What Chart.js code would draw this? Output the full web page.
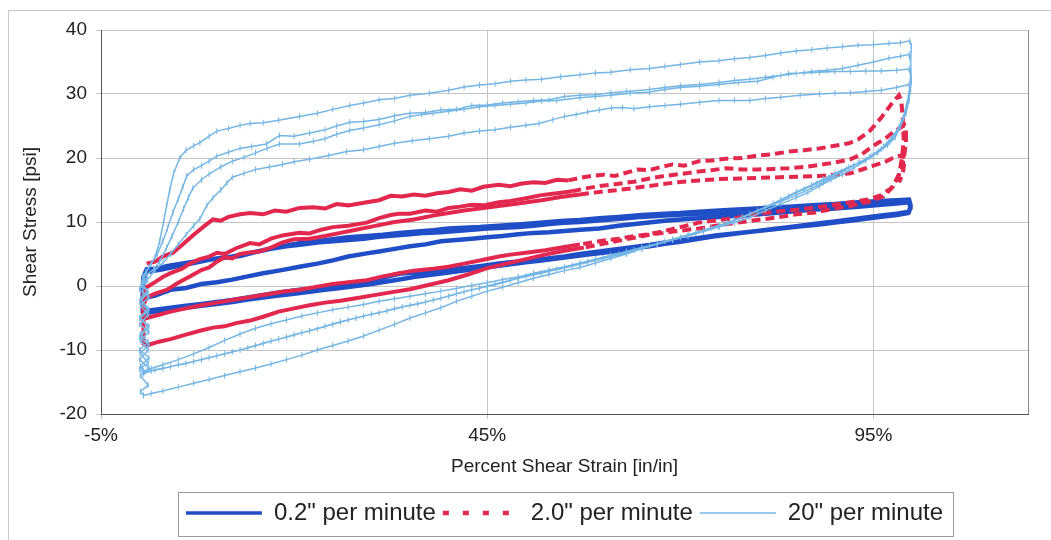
<!DOCTYPE html>
<html>
<head>
<meta charset="utf-8">
<script src="https://cdn.jsdelivr.net/npm/chart.js@4"></script>
<style>
  html, body { margin: 0; padding: 0; background: #fff; }
  #wrap { width: 1051px; height: 540px; }
</style>
</head>
<body>
<div id="wrap"><canvas id="shearChart" width="1051" height="540"></canvas></div>
<script>
// --- Data: [strain %, stress psi] ---
const xTicks = [-5, 45, 95];
const seriesNames = ['0.2" per minute', '2.0" per minute', '20" per minute'];

// 0.2" per minute (solid blue)
const slowLoad1 = [[0.9,-1.8],[2,-1.5],[4,-0.6],[6,-0.3],[8,0.3],[10,0.6],[12,1],[14,1.5],[16,2],[18,2.4],[20.7,3],[23,3.5],[25,4],[27,4.6],[29.4,5.1],[31,5.4],[33,5.8],[35,6.2],[37,6.5],[39,7],[41,7.2],[43,7.4],[45,7.6],[47,7.8],[49,8.1],[51,8.3],[53,8.4],[55,8.6],[57,8.8],[59.5,9],[62,9.4],[65,9.8],[68,10.2],[70,10.4],[72.4,10.6],[75,10.8],[78,11],[81,11.3],[84,11.6],[87,11.9],[90,12.1],[93,12.4],[96,12.7],[98,12.9],[99.6,13.1]];
const slowReturn1 = [[99.8,12.2],[99.5,11.4],[98,11.1],[96,10.8],[94,10.5],[92,10.2],[90,9.9],[88,9.6],[85.3,9.3],[83,9],[80,8.6],[77,8.2],[74.5,7.9],[72.4,7.5],[70,7.1],[68,6.8],[66,6.4],[64,6.1],[62,5.8],[59.5,5.4],[57,5],[55,4.6],[52,4.2],[50,3.9],[48,3.7],[46.5,3.5],[44,3.1],[42,2.8],[40,2.6],[38,2.4],[35.5,2.1],[33.6,1.9],[31.5,1.3],[29.4,0.4],[27,0.1],[25,-0.1],[22.5,-0.4],[20.7,-0.6],[18,-1],[16,-1.4],[14,-1.8],[12,-2.2],[10,-2.5],[8,-2.8],[6,-3.1],[4,-3.4],[2,-3.7],[0.9,-3.9]];
const slowRise1 = [[0.4,-3.5],[0.4,-1],[0.5,1.5],[0.9,2.6]];
const slowLoad2 = [[2,2.7],[4,3.2],[6,3.6],[8,4],[10,4.3],[12,4.6],[14,5.1],[16,5.6],[18,6.1],[20.7,6.7],[23,7],[25,7.3],[27,7.6],[29.4,7.8],[31.5,8],[33.6,8.3],[36,8.5],[38,8.7],[40,9],[42,9.1],[44,9.2],[46.5,9.4],[49,9.6],[51,9.8],[53,10],[55,10.2],[57,10.3],[59.5,10.6],[62,10.8],[65,11.1],[68,11.3],[70,11.4],[72.4,11.6],[75,11.8],[78,12],[81,12.2],[84,12.4],[87,12.6],[90,12.8],[93,13.1],[96,13.3],[98,13.4],[99.6,13.5]];
const slowReturn2 = [[99.8,12.6],[99.6,11.6],[98,11.3],[96,11],[94,10.7],[92,10.4],[90,10.1],[88,9.8],[86,9.5],[84,9.2],[82,8.9],[80,8.6],[78,8.3],[76,8],[74,7.7],[72,7.3],[70,6.9],[68,6.6],[66,6.2],[64,5.9],[62,5.5],[60,5.2],[58,4.9],[56,4.6],[54,4.3],[52,4],[50,3.7],[48,3.4],[46,3.1],[44,2.8],[42,2.4],[40,2.1],[38,1.8],[36,1.5],[34,1.1],[32,0.7],[30,0.3],[28,0],[26,-0.3],[24,-0.6],[22,-0.9],[20,-1.2],[18,-1.5],[16,-1.8],[14,-2.1],[12,-2.5],[10,-2.8],[8,-3.1],[6,-3.4],[4,-3.7],[2,-4],[0.9,-4.2]];
const slowRise2 = [[0.4,-4],[0.4,-1.5],[0.5,1],[0.9,2.2]];
const slowLoad3 = [[3,2.6],[5,3.1],[7,3.6],[9,4.1],[11,4.4],[13,4.7],[15,5.3],[17,5.8],[19,6.2],[21,6.5],[23,6.8],[25,7],[27,7.2],[29,7.4],[31,7.7],[33,7.9],[35,8.1],[37,8.3],[39,8.4],[41,8.6],[43,8.8],[45,9],[47,9.1],[49,9.2],[51,9.4],[53,9.7],[55,9.9],[57,10],[59,10.2],[61,10.4],[63,10.6],[65,10.8],[68,11],[71,11.2],[74,11.4],[77,11.6],[80,11.9],[83,12.1],[86,12.4],[89,12.6],[92,12.9],[95,13.1],[98,13.3],[99.6,13.4]];

// 2.0" per minute (dashed red)
const medLoad1 = [[0.9,3.5],[2,3.8],[3,4.6],[4.3,5.2],[5.5,6.4],[7,8],[8.2,9.2],[9.5,10.4],[10.5,10.2],[11.5,10.8],[13,11.2],[14.3,11.4],[16,11.2],[17.5,11.8],[19,11.6],[20.7,12.2],[22.5,12.3],[24,12.1],[25.5,12.8],[27,12.6],[29.4,13.1],[31,13.4],[32.5,14.1],[34,14],[35.5,14.3],[37,14.1],[38.5,14.5],[40,14.7],[41.5,15.1],[43,14.9],[44.5,15.5],[46.5,15.8],[48,15.6],[49.5,16],[51,16.2],[52.5,16.1],[54,16.6],[55.5,16.5],[57,16.9],[58.5,17.2],[60,17.4],[61.5,17.2],[63,17.7],[64.5,18.2],[66,18.1],[67.5,18.6],[69,19],[70.5,18.8],[72.4,19.5],[74,19.6],[76,19.9],[78,20],[80,20.4],[82,20.6],[84,21],[86,21.2],[88,21.5],[90,21.9],[91.8,22.3],[93,22.9],[94.5,24.2],[96,26.3],[97.3,28.4],[98.3,29.8]];
const medReturn1 = [[98.6,29],[98.8,26],[98.9,23],[98.7,20],[98.3,17.5],[97.5,15.5],[96.3,14],[94.5,13.2],[92,12.5],[89.5,12],[87.5,11.5],[85,11.2],[83,10.8],[80.5,10.4],[78,10],[75,9.5],[72.4,9],[69,8.5],[66,8],[63,7.3],[60,6.6],[57.5,6],[55,5.5],[52.5,4.9],[50,4.2],[47.5,3.5],[45,2.8],[42.5,1.8],[40,0.9],[37.5,0.2],[35,-0.5],[32.5,-1],[30,-1.5],[28,-1.9],[26,-2.3],[24,-2.6],[22,-3],[20,-3.5],[18,-4],[16,-4.8],[14.3,-5.4],[12.5,-5.8],[11,-6.3],[9.5,-6.5],[7.8,-7],[6,-7.6],[4,-8.3],[2.5,-8.7],[0.9,-9.3]];
const medRise1 = [[0.5,-9],[0.5,-5],[0.5,-1]];
const medLoad2 = [[0.9,-0.2],[2,0.6],[3,1.4],[4,2],[5.5,2.7],[6.5,3.5],[7.8,4.2],[9,4.6],[10,5.2],[11,5],[12.5,5.9],[14.3,6.7],[15.5,6.5],[17,7.4],[18.5,7.9],[20.7,8.3],[22,8.2],[23.5,8.8],[25,9.2],[27,9.4],[29.4,9.9],[31,10.6],[32.5,11.1],[33.6,11.3],[35,11.3],[37,11.8],[38.5,11.6],[40,12.2],[41.5,12.4],[43,12.7],[44.5,12.6],[46.5,13.1],[48,13.3],[50,13.7],[52,14.2],[54,14.5],[56,14.8],[57.5,15.2],[59.5,15.6],[61.5,15.9],[64,16.3],[66,16.8],[68,17.2],[70,17.5],[72.4,17.9],[74,18.1],[76,18.4],[78,18.2],[80,18.2],[82,18.3],[84,18.4],[86,18.6],[88,18.9],[90,19.3],[92,19.8],[93.5,20.6],[94.5,21.5],[95.5,22.3],[96.5,23],[97.5,24],[98.3,24.6],[99,25.1]];
const medReturn2 = [[99.1,24.5],[99.2,22.5],[99,20.5],[98.7,18.5],[98.1,16.8],[97.3,15.3],[96,14.2],[94.3,13.5],[92,13.1],[89.6,12.6],[87,12.2],[85,11.9],[83,11.7],[81,11.4],[79,11],[77,10.6],[75,10.3],[72.4,9.9],[70,9.2],[68,8.6],[66,8.1],[64,7.8],[62,7.4],[59.5,7],[57,6.5],[55,6.1],[52.5,5.6],[50,5.2],[48,4.9],[46.5,4.6],[44.5,4.1],[42,3.5],[40,3],[38,2.7],[35.5,2.4],[33.6,2],[31.5,1.5],[29.4,0.9],[27,0.6],[25,0.3],[23,-0.1],[20.7,-0.6],[18.5,-0.9],[16,-1.4],[14,-1.8],[12,-2.2],[10,-2.6],[8,-3],[6,-3.5],[4,-4],[2.5,-4.5],[0.9,-5]];
const medRise2 = [[0.5,-4.7],[0.5,-3]];
const medLoad3 = [[0.9,-1.8],[2,-1.2],[3.5,-0.6],[5,0.5],[6.5,1.5],[8,2.5],[9,2.9],[10,3.8],[11,4.5],[12,4.3],[13,5],[14,5.2],[15.5,5.4],[17,6],[18.5,6.8],[20,7.3],[22,7.4],[24,7.8],[26,8.3],[28,8.8],[30.5,9.4],[33,10],[35.5,10.4],[38,11],[40,11.4],[42,11.8],[44,12.1],[46.5,12.5],[49,12.9],[52,13.4],[54.5,13.9],[57,14.3],[59.5,14.7],[62,15],[64.5,15.4],[67,15.8],[69.5,16.2],[72.4,16.5],[75,16.7],[78,16.8],[80.5,16.9],[83,17],[85.5,17.1],[88,17.2],[90,17.4],[92,17.6],[93.5,18.2],[95,18.8],[96.5,19.4],[97.5,20],[98.8,20.5],[99,19.5],[98.8,17.5],[98.3,16.2]];

// 20" per minute (light blue with tick markers)
const fastLoad1 = [[0.4,-1],[0.6,1.5],[1.2,3],[2,4.5],[2.6,7],[3.1,10],[3.5,12.6],[3.9,15],[4.4,17.6],[5.2,20],[6,21.2],[7,21.9],[7.8,22.4],[9,23.4],[10,24.2],[11.5,24.6],[13,25.1],[14.3,25.4],[16,25.5],[18,25.9],[20.7,26.5],[23,27],[25,27.6],[27.2,28.2],[29,28.6],[31,29.1],[33,29.3],[35,29.8],[37.5,30.1],[40,30.6],[42,31.1],[44,31.4],[46,31.6],[48,32],[50,32.2],[52,32.3],[54.5,32.7],[57,33],[59,33.3],[61,33.4],[63.5,33.8],[66,34],[68,34.3],[70,34.6],[72.5,35],[75,35.2],[77,35.5],[79,35.7],[81,36],[83,36.4],[85,36.7],[87,36.9],[89,37.2],[91,37.4],[93,37.6],[95,37.7],[97,37.9],[98.5,38],[99.7,38.3]];
const fastReturn1 = [[99.9,37.5],[99.8,35],[99.9,32],[99.6,29],[99.2,27],[98.5,25],[97.8,23.2],[96.8,22],[95.5,20.8],[94,19.6],[92.5,18.5],[91,17.4],[89.5,16.6],[88,15.6],[86.5,14.6],[85,13.8],[83,12.8],[81,11.8],[79,10.7],[77,9.9],[75,9.2],[73,8.5],[71,7.8],[69,7.2],[67,6.5],[65,5.8],[63,5],[61,4.3],[59,3.6],[57,2.9],[55,2.4],[53,1.8],[51,1.2],[49,0.5],[47,-0.2],[45,-0.8],[43,-1.6],[41,-2.4],[39,-3.4],[37,-4.2],[35,-5],[33,-6],[31,-6.9],[29,-7.8],[27,-8.6],[25,-9.3],[23,-10],[21,-10.8],[19,-11.5],[17,-12.2],[15,-12.8],[13,-13.4],[11,-14],[9,-14.6],[7,-15.2],[5,-15.8],[3,-16.4],[1.5,-16.8],[0.5,-17.1]];
const fastRise1 = [[0.1,-16.5],[1.1,-15.5],[0.1,-14],[1.2,-12.8],[0,-11.5],[1.1,-10],[0.1,-8.5],[1.2,-7.2],[0,-6],[1.1,-4.5],[0.1,-3],[1.2,-1.8],[0,-0.5],[1,0.8],[0.4,1.5]];
const fastLoad2 = [[0.8,2.2],[1.5,3.5],[2.3,5],[3,7],[3.6,9],[4.3,11.5],[5,13.6],[5.6,15.5],[6.1,17.2],[7,18.2],[8,18.8],[9,19.5],[10,20.3],[11.5,20.9],[13,21.5],[14.5,21.8],[16.4,22.2],[18.1,23.5],[20,23.4],[22,23.9],[24,24.4],[25.5,25],[27.2,25.6],[29,25.7],[31,26],[33,26.6],[35,27],[37,27.1],[39,27.5],[41,27.6],[43,28.2],[45,28.3],[47,28.6],[49,28.8],[51,29],[53,29.1],[55,29.6],[57,29.8],[59,29.9],[61,30.2],[63,30.4],[66,30.7],[68,31],[70,31.3],[72.5,31.5],[75,31.8],[77,32.1],[79,32.3],[81,32.6],[83,32.9],[85,33.2],[87,33.5],[89,33.7],[91,34],[93,34.5],[95,35],[97,35.6],[98.5,35.9],[99.6,36.2]];
const fastReturn2 = [[99.8,35],[99.8,32],[99.5,29.5],[99,27],[98.3,24.8],[97.3,23],[96,21.4],[94.5,20.2],[93,19.2],[91.5,18.2],[90,17.2],[88.5,16.2],[87,15.3],[85,14.2],[83,13.2],[81,12.2],[79,11.2],[77,10.3],[75,9.5],[73,8.7],[71,8],[69,7.3],[67,6.6],[65,5.9],[63,5.2],[61,4.6],[59,4],[57,3.4],[55,2.8],[53,2.3],[51,1.8],[49,1.2],[47,0.5],[45,-0.1],[43,-0.6],[41,-1.2],[39,-1.9],[37,-2.5],[35,-3],[33,-3.5],[31,-4.2],[29,-4.7],[27,-5.3],[25,-6],[23,-6.7],[21,-7.3],[19,-8],[17,-8.6],[15,-9.3],[13,-10],[11,-10.6],[9,-11.2],[7,-11.8],[5,-12.3],[3,-12.9],[1.5,-13.3],[0.5,-13.7]];
const fastRise2 = [[0,-13],[1.1,-12],[0.1,-10.5],[1.2,-9.2],[0,-8],[1.1,-6.5],[0.1,-5],[1.2,-3.8],[0,-2.5],[1.1,-1],[0.2,0.3],[0.6,1.5]];
const fastLoad3 = [[0.9,1.8],[1.8,2.6],[2.6,3.8],[3.5,6],[4.2,7.8],[5,10],[5.7,12.1],[6.3,13.8],[6.9,15.3],[8,16.6],[9,17.5],[10.5,18.6],[12,19.5],[13.5,20.1],[15,20.8],[16.5,21.5],[18.1,22.2],[20.7,22.2],[22.5,22.6],[24,23],[25.5,23.7],[27.2,24.3],[29,24.7],[31,25.2],[33,25.8],[35,26.5],[36.5,26.8],[38,27],[40,27.3],[42,27.6],[44,28],[46,28.2],[48,28.4],[50,28.6],[52,28.9],[54,29],[57,29.4],[59,29.6],[61,29.8],[63.5,30.1],[66,30.3],[68,30.7],[70,31],[72.5,31.2],[75,31.5],[77.5,31.8],[80,32],[82,32.6],[84,33.2],[86,33.3],[88,33.4],[90,33.5],[92,33.5],[94,33.6],[96,33.6],[98,33.7],[99.6,33.9]];
const fastReturn3 = [[99.8,33],[99.7,30.5],[99.3,28],[98.6,25.5],[97.6,23.5],[96.3,21.8],[94.8,20.4],[93.2,19.3],[91.8,18.6],[90,17.6],[88.5,16.7],[87,15.8],[85,14.7],[83,13.5],[81,12.3],[79,11.2],[77,10.2],[75,9.3],[73,8.5],[71,7.8],[69,7.2],[67,6.6],[65,6],[63,5.4],[61,4.8],[59,4.2],[57,3.6],[55,3],[53,2.5],[51,2],[49,1.4],[47,1],[45,0.5],[43,0.1],[41,-0.4],[39,-0.8],[37,-1.2],[35,-1.6],[33,-2],[31,-2.4],[29,-2.9],[27,-3.3],[25,-3.7],[23,-4.2],[21,-4.7],[19,-5.3],[17,-5.9],[15,-6.6],[13,-7.5],[11,-8.5],[9,-9.6],[7,-10.6],[5,-11.5],[3,-12.3],[1.5,-12.9],[0.5,-13.3]];
const fastRise3 = [[0.1,-12.5],[1.2,-11.2],[0,-10],[1.1,-8.7],[0.1,-7.5],[1.2,-6.2],[0,-5],[1.1,-3.5],[0.1,-2],[1,-0.8],[0.3,0.5]];
const fastLoad4 = [[1,1],[2,2.5],[3,3.6],[4,5],[5,6.5],[6,8],[7,9.4],[7.8,10.5],[8.7,12.6],[9.5,13.8],[10.5,15],[11.3,16.1],[12,17],[13.5,17.6],[15,18.2],[16.8,18.6],[18.5,19],[20,19.4],[22,19.8],[24.5,20.4],[26.8,21],[29,21.3],[31,21.8],[33,22.3],[35.3,22.7],[37.5,23],[40,23.4],[42,23.9],[44,24.2],[46,24.4],[48,24.8],[50,25.1],[51.7,25.4],[53.5,26],[55,26.5],[56.5,26.8],[58,27.2],[59.5,27.5],[61.1,27.8],[62.5,27.9],[64,27.7],[66,28],[68,28.2],[70,28.4],[72.5,28.7],[75,29],[77,29],[79,29],[81,29.3],[83,29.5],[85.5,29.8],[88,30],[90,30.1],[92,30.2],[94,30.4],[96,30.6],[98,31],[99.6,31.5]];
const fastReturn4 = [[99.8,30.5],[99.4,28.3],[98.8,26],[98,24],[97,22.4],[95.6,21],[94,19.8],[92.4,18.8],[90.8,17.8],[89.2,16.9],[87.6,16],[86,15.1],[84,14],[82,12.9],[80,11.8],[78,10.8],[76,9.9],[74,9.1],[72,8.3],[70,7.6],[68,7],[66,6.3],[64,5.6],[62,5],[60,4.4],[58,3.8],[56,3.2],[54,2.6],[52,2],[50,1.5],[48,0.9],[46,0.3],[44,-0.3],[42,-0.9],[40,-1.6],[38,-2.2],[36,-2.8],[34,-3.3],[32,-3.9],[30,-4.4],[28,-5],[26,-5.6],[24,-6.3],[22,-7],[20,-7.6],[18,-8.3],[16,-9],[14,-9.7],[12,-10.3],[10,-10.9],[8,-11.5],[6,-12.1],[4,-12.6],[2,-13.1],[0.6,-13.5]];

// --- Build continuous test paths ---
function toPoints(...branches) {
    return [].concat(...branches).map(([x, y]) => ({ x: x, y: y }));
}
const slowPath = toPoints(slowLoad1, slowReturn1, slowRise1, slowLoad2, slowReturn2, slowRise2, slowLoad3);
const medPath = toPoints(medLoad1, medReturn1, medRise1, medLoad2, medReturn2, medRise2, medLoad3);
const fastPath = toPoints(fastLoad1, fastReturn1, fastRise1, fastLoad2, fastReturn2, fastRise2, fastLoad3, fastReturn3, fastRise3, fastLoad4, fastReturn4);

const FONT = "'Liberation Sans', Arial, sans-serif";
Chart.defaults.font.family = FONT;
Chart.defaults.color = '#222';

const blueColor = '#204EC6';
const redColor = '#E2284F';
const lightBlue = '#74B6E4';

// white background + thin chart-area frame like the Excel sheet
const framePlugin = {
    id: 'frame',
    beforeDraw(chart) {
        const c = chart.ctx;
        c.save();
        c.fillStyle = '#fff';
        c.fillRect(0, 0, chart.width, chart.height);
        c.strokeStyle = '#c8c8c8';
        c.lineWidth = 1;
        c.strokeRect(8.5, 10.5, chart.width, chart.height);
        c.restore();
    },
    beforeDatasetsDraw(chart) {
        const a = chart.chartArea, c = chart.ctx;
        c.save();
        c.strokeStyle = '#8a8a8a';
        c.lineWidth = 1;
        c.beginPath();
        c.moveTo(Math.round(a.right) + 0.5, a.top);
        c.lineTo(Math.round(a.right) + 0.5, a.bottom);
        c.stroke();
        c.restore();
    },
    afterDraw(chart) {
        const boxes = chart.legend.legendHitBoxes;
        if (!boxes || !boxes.length) return;
        const left = Math.min(...boxes.map(b => b.left)) - 8;
        const right = Math.max(...boxes.map(b => b.left + b.width)) + 10;
        const c = chart.ctx;
        c.save();
        c.strokeStyle = '#9a9a9a';
        c.lineWidth = 1;
        c.strokeRect(Math.round(left) + 0.5, 492.5, Math.round(right - left), 44);
        c.restore();
    }
};

const ctx = document.getElementById('shearChart').getContext('2d');
const shearChart = new Chart(ctx, {
    type: 'scatter',
    data: {
        datasets: [
            {
                label: seriesNames[0], data: slowPath, showLine: true, order: 2,
                borderColor: blueColor, backgroundColor: blueColor, borderWidth: 4.5,
                pointRadius: 0, tension: 0, legendWidth: 3.5, legendDash: []
            },
            {
                label: seriesNames[1], data: medPath, showLine: true, order: 1,
                borderColor: redColor, backgroundColor: redColor, borderWidth: 4,
                pointRadius: 0, tension: 0, borderDash: [],
                segment: { borderDash: c => (c.p0.parsed.x > 55 && c.p1.parsed.x > 55) ? [9, 5] : undefined },
                legendWidth: 4.5, legendDash: [6, 14]
            },
            {
                label: seriesNames[2], data: fastPath, showLine: true, order: 0,
                borderColor: lightBlue, backgroundColor: lightBlue, borderWidth: 1.5,
                pointRadius: 3, pointStyle: 'line', rotation: 90, pointBorderWidth: 1,
                tension: 0, legendWidth: 1.5, legendDash: []
            }
        ]
    },
    options: {
        responsive: false,
        animation: false,
        layout: { padding: { left: 0, right: 23, top: 30, bottom: 5 } },
        scales: {
            x: {
                type: 'linear', min: -5, max: 115,
                afterBuildTicks: s => { s.ticks = xTicks.map(v => ({ value: v })); },
                afterFit: s => { s.height = 80; },
                ticks: { callback: v => v + '%', font: { size: 19 }, color: '#222', padding: 5 },
                grid: { color: '#c4c4c4', tickLength: 5 },
                border: { color: '#555' },
                title: { display: true, text: 'Percent Shear Strain [in/in]', font: { size: 19 }, color: '#222', padding: { top: 0, bottom: 16 } }
            },
            y: {
                min: -20, max: 40,
                afterFit: s => { s.width = 101; },
                ticks: { stepSize: 10, font: { size: 19 }, color: '#222', padding: 9 },
                grid: { color: '#c4c4c4', tickLength: 5 },
                border: { color: '#555' },
                title: { display: true, text: 'Shear Stress [psi]', font: { size: 19 }, color: '#222', padding: { top: 19, bottom: 0 } }
            }
        },
        plugins: {
            tooltip: { enabled: false },
            legend: {
                position: 'bottom',
                fullSize: false,
                labels: {
                    font: { size: 24 },
                    color: '#222',
                    usePointStyle: true,
                    pointStyleWidth: 76,
                    boxHeight: 24,
                    padding: 7,
                    generateLabels: chart => chart.data.datasets.map((ds, i) => ({
                        text: ds.label,
                        datasetIndex: i,
                        fillStyle: ds.borderColor,
                        strokeStyle: ds.borderColor,
                        fontColor: '#222',
                        lineWidth: ds.legendWidth,
                        lineDash: ds.legendDash,
                        pointStyle: 'line',
                        hidden: false
                    }))
                }
            }
        }
    },
    plugins: [framePlugin]
});
</script>
</body>
</html>
